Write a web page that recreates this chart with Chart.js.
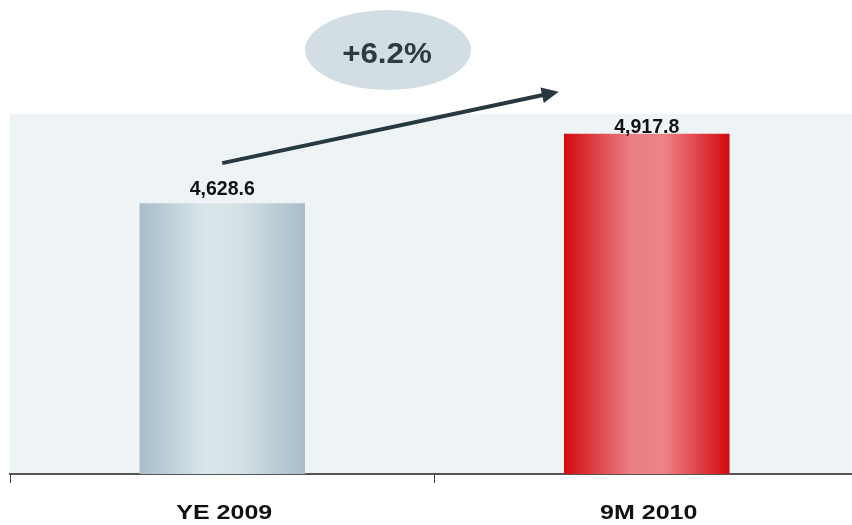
<!DOCTYPE html>
<html>
<head>
<meta charset="utf-8">
<script src="https://cdn.jsdelivr.net/npm/chart.js@4"></script>
<style>
  html, body { margin: 0; padding: 0; background: #ffffff; overflow: hidden; }
  #wrap { width: 852px; height: 525px; position: relative; overflow: hidden; }
</style>
</head>
<body>
<div id="wrap"><canvas id="chart" width="859" height="525"></canvas></div>
<script>
const categories = ["YE 2009", "9M 2010"];
const equityValues = [4628.6, 4917.8];
const growthLabel = "+6.2%";
const axisMin = 3500;
const axisMax = 5000;

const FONT = "'Liberation Sans', Arial, sans-serif";

// edge / centre colours for the shaded bars
const barShades = [
  ["#a7bdc9", "#dbe6eb", "#d6e1e6", "#a7bdc9"],
  ["#d30910", "#ea7e83", "#ec8488", "#d30910"]
];

function barGradient(context) {
  const chart = context.chart;
  const area = chart.chartArea;
  const stops = barShades[context.dataIndex % barShades.length];
  if (!area) return stops[0];
  const x = chart.scales.x.getPixelForValue(context.dataIndex);
  const w = (area.width / categories.length) * 0.39;
  const g = chart.ctx.createLinearGradient(x - w / 2, 0, x + w / 2, 0);
  g.addColorStop(0, stops[0]);
  g.addColorStop(0.4, stops[1]);
  g.addColorStop(0.6, stops[2]);
  g.addColorStop(1, stops[3]);
  return g;
}

// draw text squeezed / stretched horizontally
function drawText(ctx, text, x, y, sx) {
  ctx.save();
  ctx.translate(x, y);
  ctx.scale(sx, 1);
  ctx.fillText(text, 0, 0);
  ctx.restore();
}

const plotBackground = {
  id: "plotBackground",
  beforeDraw(chart) {
    const { ctx, chartArea } = chart;
    ctx.save();
    ctx.fillStyle = "#eef3f6";
    ctx.fillRect(chartArea.left, chartArea.top, chart.width - chartArea.left, chartArea.bottom - chartArea.top);
    ctx.restore();
  }
};

const valueLabels = {
  id: "valueLabels",
  afterDatasetsDraw(chart) {
    const { ctx, chartArea } = chart;
    const meta = chart.getDatasetMeta(0);
    ctx.save();
    ctx.font = "bold 21px " + FONT;
    ctx.fillStyle = "#111111";
    ctx.textAlign = "center";
    ctx.textBaseline = "alphabetic";
    meta.data.forEach((bar, i) => {
      const y = Math.max(bar.y - 8, chartArea.top + 19);
      const txt = equityValues[i].toLocaleString("en-US", { minimumFractionDigits: 1 });
      drawText(ctx, txt, bar.x, y, 0.93);
    });
    ctx.restore();
  }
};

const categoryLabels = {
  id: "categoryLabels",
  afterDraw(chart) {
    const { ctx } = chart;
    const xs = chart.scales.x;
    ctx.save();
    ctx.font = "bold 21px " + FONT;
    ctx.fillStyle = "#111111";
    ctx.textAlign = "center";
    ctx.textBaseline = "alphabetic";
    categories.forEach((c, i) => {
      drawText(ctx, c, xs.getPixelForValue(i) + 2, 519, 1.19);
    });
    ctx.restore();
  }
};

const growthArrow = {
  id: "growthArrow",
  afterDraw(chart) {
    const { ctx } = chart;
    const meta = chart.getDatasetMeta(0);
    const b1 = meta.data[0];
    const b2 = meta.data[1];
    const x1 = b1.x, y1 = b1.y - 40;
    const x2 = b2.x - 88, y2 = b2.y - 42;
    const ang = Math.atan2(y2 - y1, x2 - x1);
    const head = 17;
    ctx.save();
    ctx.strokeStyle = "#27393f";
    ctx.fillStyle = "#27393f";
    ctx.lineWidth = 4;
    ctx.beginPath();
    ctx.moveTo(x1, y1);
    ctx.lineTo(x2 - Math.cos(ang) * head * 0.8, y2 - Math.sin(ang) * head * 0.8);
    ctx.stroke();
    ctx.beginPath();
    ctx.moveTo(x2, y2);
    ctx.lineTo(x2 - Math.cos(ang) * head + Math.sin(ang) * 8, y2 - Math.sin(ang) * head - Math.cos(ang) * 8);
    ctx.lineTo(x2 - Math.cos(ang) * head - Math.sin(ang) * 8, y2 - Math.sin(ang) * head + Math.cos(ang) * 8);
    ctx.closePath();
    ctx.fill();

    // growth bubble
    ctx.fillStyle = "#d2dee3";
    ctx.beginPath();
    ctx.ellipse(388, 50, 83, 40, 0, 0, Math.PI * 2);
    ctx.fill();
    ctx.fillStyle = "#2e3c41";
    ctx.font = "bold 29px " + FONT;
    ctx.textAlign = "center";
    ctx.textBaseline = "alphabetic";
    drawText(ctx, growthLabel, 387, 63, 1.08);
    ctx.restore();
  }
};

new Chart(document.getElementById("chart"), {
  type: "bar",
  data: {
    labels: categories,
    datasets: [{
      data: equityValues,
      backgroundColor: barGradient,
      borderWidth: 0,
      barPercentage: 0.39,
      categoryPercentage: 1
    }]
  },
  options: {
    responsive: false,
    animation: false,
    layout: { padding: { left: 10, top: 114, right: 0, bottom: 0 } },
    plugins: {
      legend: { display: false },
      tooltip: { enabled: false }
    },
    scales: {
      y: { display: false, min: axisMin, max: axisMax },
      x: {
        grid: {
          display: true,
          drawOnChartArea: false,
          offset: true,
          tickLength: 9,
          color: "#444444",
          lineWidth: 1
        },
        border: { display: true, color: "#555555", width: 2 },
        ticks: { color: "rgba(0,0,0,0)", font: { size: 21, weight: "bold", family: FONT } },
        afterFit(scale) { scale.height = 51; }
      }
    }
  },
  plugins: [plotBackground, valueLabels, categoryLabels, growthArrow]
});
</script>
</body>
</html>
